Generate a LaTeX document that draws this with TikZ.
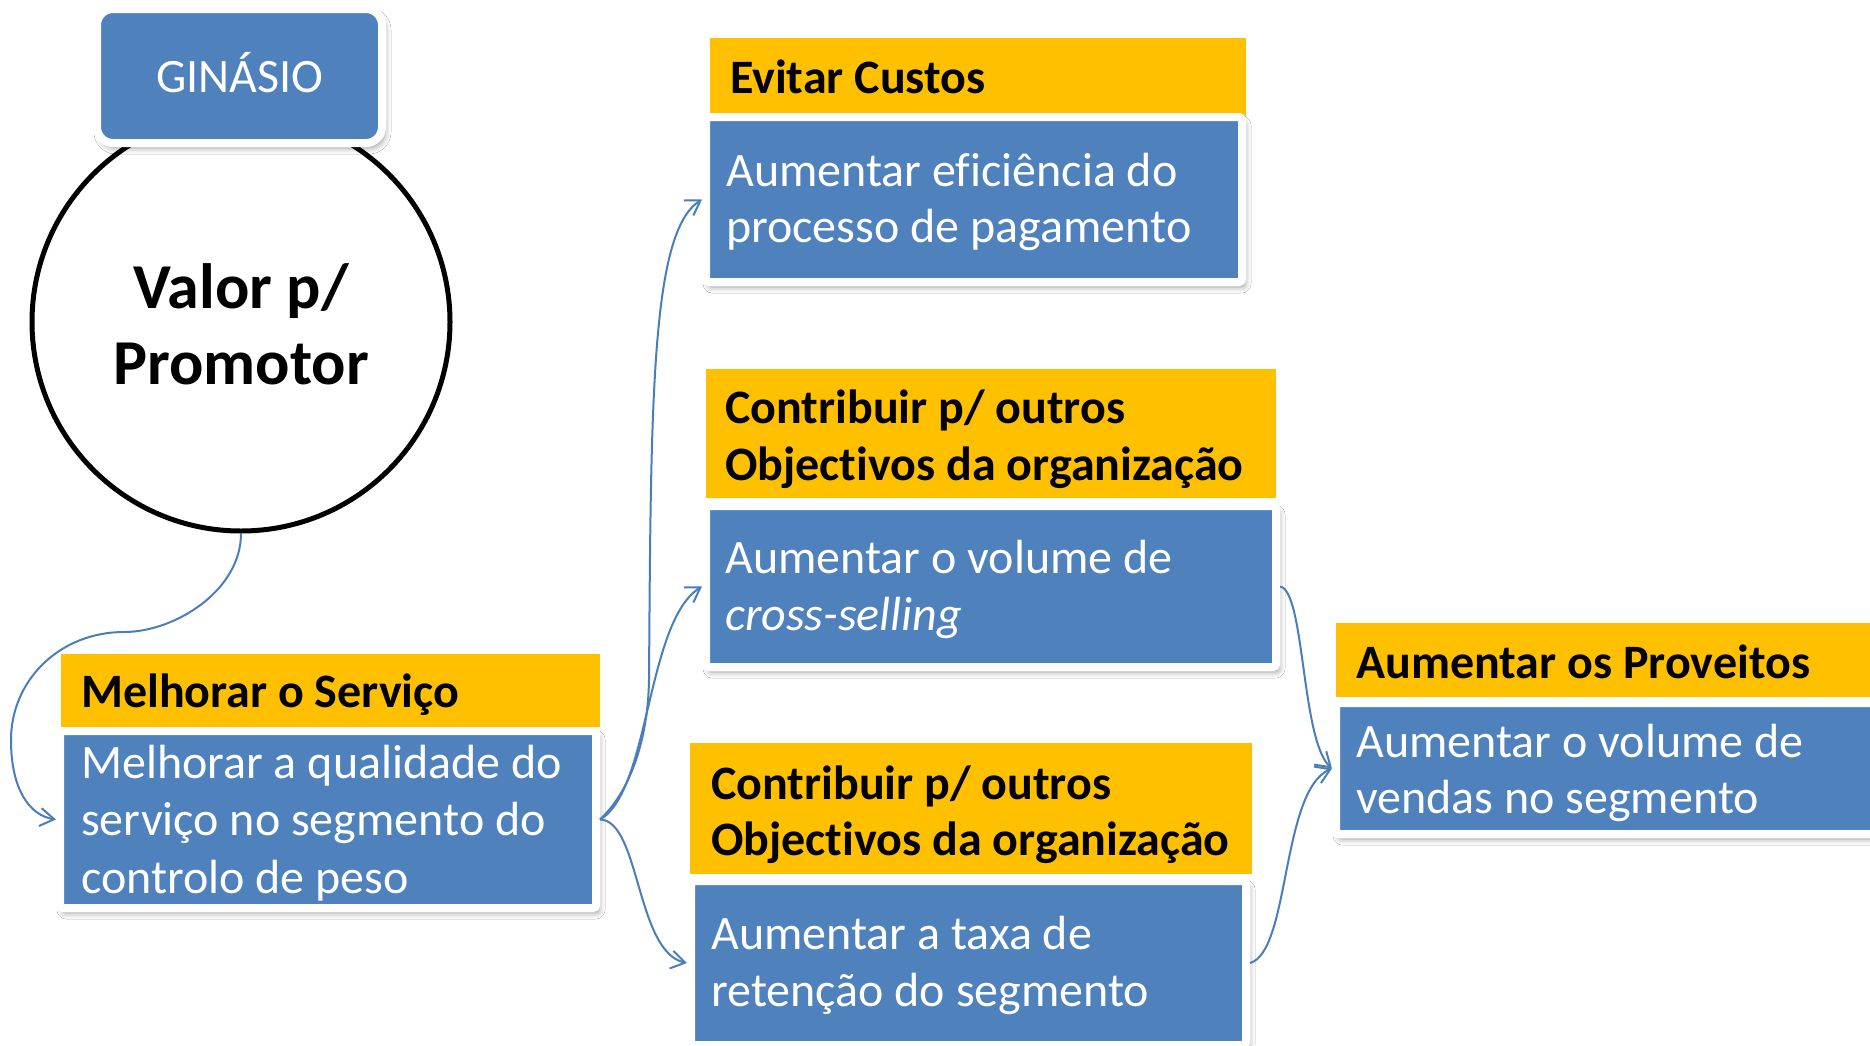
\documentclass[tikz,border=0pt]{standalone}
\usepackage{fontspec}
\setmainfont{Carlito}[Ligatures=NoCommon]
\usetikzlibrary{arrows.meta,shadows.blur}
\definecolor{boxblue}{HTML}{4F81BD}
\definecolor{titleyel}{HTML}{FFC000}
\definecolor{linkblue}{HTML}{4A7EBB}
\begin{document}
\begin{tikzpicture}[x=1pt,y=-1pt,
  ybox/.style={fill=titleyel, inner sep=0pt, outer sep=0pt},
  bbox/.style={fill=boxblue, draw=white, line width=8pt, rounded corners=3pt, inner sep=0pt,
    blur shadow={shadow xshift=3pt, shadow yshift=-5pt, shadow blur radius=6pt, shadow opacity=40}},
  gbox/.style={fill=boxblue, draw=white, line width=8pt, rounded corners=16pt, inner sep=0pt,
    blur shadow={shadow xshift=3pt, shadow yshift=-5pt, shadow blur radius=6pt, shadow opacity=40}},
  ttl/.style={anchor=base west, inner sep=0pt, font=\fontsize{48pt}{57pt}\selectfont\bfseries, text=black},
  bdy/.style={anchor=base west, inner sep=0pt, font=\fontsize{48pt}{57pt}\selectfont, text=white},
  big/.style={anchor=base, inner sep=0pt, font=\fontsize{64pt}{77pt}\selectfont\bfseries, text=black},
  conn/.style={draw=linkblue, line width=2pt, -{Straight Barb[length=14pt,width=18pt]}},
]
\useasboundingbox (0,0) rectangle (1870,1045);
\clip (0,0) rectangle (1870,1045);
\fill[white] (0,0) rectangle (1870,1045);

% circle and gym label
\node[circle, draw=black, line width=5pt, minimum size=418pt, inner sep=0pt] (circ) at (241,322) {};
\node[big] (v1) at (241,308) {Valor p/};
\node[big] (v2) at (241,384) {Promotor};
\node[gbox, minimum width=285pt, minimum height=134pt] (gin) at (239.5,76) {};
\node[bdy, anchor=base] (gint) at (240,92) {GINÁSIO};

% yellow title boxes
\node[ybox, minimum width=539pt, minimum height=73pt] (mY) at (330.5,690.5) {};
\node[ybox, minimum width=536pt, minimum height=79pt] (eY) at (978,77.5) {};
\node[ybox, minimum width=570pt, minimum height=129pt] (cmY) at (991,433.5) {};
\node[ybox, minimum width=562pt, minimum height=131pt] (cbY) at (971,808.5) {};
\node[ybox, minimum width=554pt, minimum height=74pt] (pY) at (1613,660) {};

% blue boxes
\node[bbox, minimum width=536pt, minimum height=177pt] (mB) at (328,819.5) {};
\node[bbox, minimum width=536pt, minimum height=165pt] (eB) at (974,199.5) {};
\node[bbox, minimum width=570pt, minimum height=161pt] (cmB) at (991,586.5) {};
\node[bbox, minimum width=555pt, minimum height=164pt] (cbB) at (968.5,963) {};
\node[bbox, minimum width=554pt, minimum height=131pt] (pB) at (1613,768.5) {};

% texts
\node[ttl] (mt) at (81,707) {Melhorar o Serviço};
\node[bdy] (mb1) at (81,778) {Melhorar a qualidade do};
\node[bdy] (mb2) at (81,835) {serviço no segmento do};
\node[bdy] (mb3) at (81,893) {controlo de peso};

\node[ttl] (et) at (730,93) {Evitar Custos};
\node[bdy] (eb1) at (726,186) {Aumentar eficiência do};
\node[bdy] (eb2) at (726,242) {processo de pagamento};

\node[ttl] (cmt1) at (725,423) {Contribuir p/ outros};
\node[ttl] (cmt2) at (725,480) {Objectivos da organização};
\node[bdy] (cmb1) at (725,573) {Aumentar o volume de};
\node[bdy] (cmb2) at (725,630) {\itshape cross-selling};

\node[ttl] (cbt1) at (711,799) {Contribuir p/ outros};
\node[ttl] (cbt2) at (711,855) {Objectivos da organização};
\node[bdy] (cbb1) at (711,949) {Aumentar a taxa de};
\node[bdy] (cbb2) at (711,1006) {retenção do segmento};

\node[ttl] (pt) at (1356,678) {Aumentar os Proveitos};
\node[bdy] (pb1) at (1356,757) {Aumentar o volume de};
\node[bdy] (pb2) at (1356,813) {vendas no segmento};

% connectors
\coordinate (k1) at (124,632);
\coordinate (k2) at (11,740);
\coordinate (j1) at (649,680);
\draw[conn] (circ.south) .. controls +(0,57) and +(51,0) .. (k1)
  .. controls +(-64,0) and +(0,-60) .. (k2)
  .. controls +(0,50) and +(-26,-4) .. (mB.west);
\draw[conn] (mB.east) .. controls +(30,-28) and +(-1,60) .. (j1)
  .. controls +(2,-280) and +(-51,32) .. (eB.west);
\draw[conn] (mB.east) .. controls +(50,-28) and +(-56,35) .. (cmB.west);
\draw[conn] (mB.east) .. controls +(40,1) and +(-51,-11) .. (cbB.west);
\draw[conn] (cmB.east) .. controls +(25,4) and +(-31,-28) .. (pB.west);
\draw[conn] (cbB.east) .. controls +(40,-11) and +(-51,22) .. (pB.west);
\end{tikzpicture}
\end{document}
